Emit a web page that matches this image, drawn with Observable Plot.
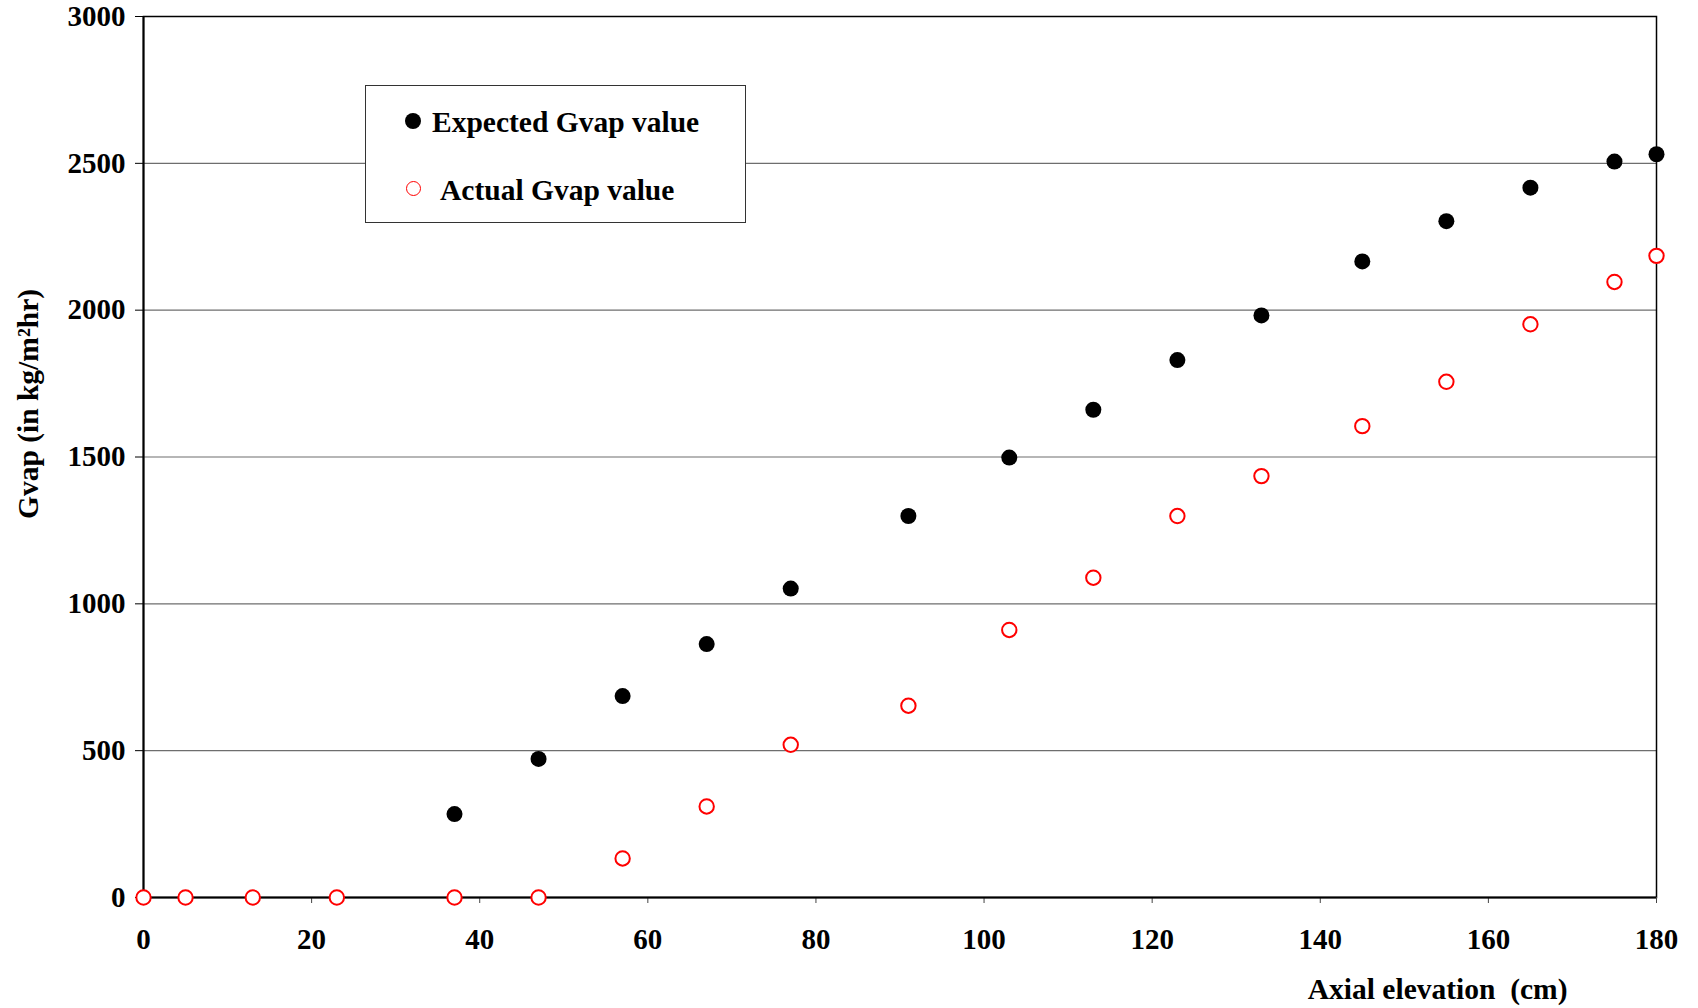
<!DOCTYPE html>
<html>
<head>
<meta charset="utf-8">
<script src="https://cdn.jsdelivr.net/npm/d3@7"></script>
<script src="https://cdn.jsdelivr.net/npm/@observablehq/plot@0.6"></script>
<style>
  html, body { margin: 0; padding: 0; background: #fff; }
  #wrap { position: relative; width: 1698px; height: 1008px; font-family: "Liberation Serif", "Times New Roman", serif; font-weight: bold; }
  #legend { position: absolute; left: 365px; top: 85px; width: 381px; height: 138px; background: #fff; border: 1px solid #333; box-sizing: border-box; }
  .item { position: absolute; font-size: 29.5px; line-height: 1; white-space: nowrap; color: #000; }
  .sym { position: absolute; box-sizing: border-box; border-radius: 50%; }
</style>
</head>
<body>
<div id="wrap"></div>
<script>
// Axial elevation (cm) of the measurement stations
const elevationExpected = [37, 47, 57, 67, 77, 91, 103, 113, 123, 133, 145, 155, 165, 175, 180];
const gvapExpected      = [284, 472, 686, 863, 1052, 1299, 1498, 1661, 1830, 1982, 2166, 2303, 2417, 2506, 2531];

const elevationActual = [0, 5, 13, 23, 37, 47, 57, 67, 77, 91, 103, 113, 123, 133, 145, 155, 165, 175, 180];
const gvapActual      = [0, 0, 0, 0, 0, 0, 133, 310, 520, 653, 911, 1089, 1299, 1435, 1605, 1756, 1952, 2096, 2185];

const xTicks = [0, 20, 40, 60, 80, 100, 120, 140, 160, 180];
const yTicks = [0, 500, 1000, 1500, 2000, 2500, 3000];
const gridValues = [500, 1000, 1500, 2000, 2500];

const seriesNames = ["Expected Gvap value", "Actual Gvap value"];
const xLabel = "Axial elevation\u00a0 (cm)";
const yLabel = "Gvap (in kg/m\u00b2hr)";

const expected = elevationExpected.map((x, i) => ({x, y: gvapExpected[i]}));
const actual = elevationActual.map((x, i) => ({x, y: gvapActual[i]}));

const chart = Plot.plot({
  width: 1698,
  height: 1008,
  marginTop: 16,
  marginLeft: 143,
  marginRight: 42,
  marginBottom: 111,
  style: {fontFamily: "'Liberation Serif', 'Times New Roman', serif", fontSize: "29px", fontWeight: "bold", color: "#000", background: "#fff"},
  x: {domain: [0, 180]},
  y: {domain: [0, 3000]},
  marks: [
    Plot.ruleY(gridValues, {stroke: "#6e6e6e", strokeWidth: 1.2}),
    Plot.frame({stroke: "#000", strokeWidth: 1.5}),
    Plot.axisX({ticks: xTicks, tickSize: 6, tickPadding: 25, tickFormat: d => String(d), label: null, stroke: "#444"}),
    Plot.axisY({ticks: yTicks, tickSize: 8, tickPadding: 10, tickFormat: d => String(d), label: null, stroke: "#000"}),
    Plot.ruleX([0], {stroke: "#000", strokeWidth: 2}),
    Plot.ruleY([0], {stroke: "#000", strokeWidth: 2.2}),
    Plot.dot(expected, {x: "x", y: "y", r: 8, fill: "#000", stroke: "none"}),
    Plot.dot(actual, {x: "x", y: "y", r: 7.2, fill: "#fff", stroke: "#ff0000", strokeWidth: 2}),
    Plot.text([xLabel], {frameAnchor: "bottom-right", textAnchor: "end", dx: -89, dy: 101, fontSize: 29.5, fontWeight: "bold"}),
    Plot.text([yLabel], {frameAnchor: "left", textAnchor: "middle", rotate: -90, dx: -115, dy: -53, fontSize: 29.5, fontWeight: "bold"})
  ]
});

const wrap = document.getElementById("wrap");
wrap.appendChild(chart);

// Legend box
const legend = document.createElement("div");
legend.id = "legend";
legend.innerHTML = `
  <div class="sym" style="left:39px;top:27px;width:16px;height:16px;background:#000;"></div>
  <div class="item" style="left:66px;top:22px;">${seriesNames[0]}</div>
  <div class="sym" style="left:40px;top:95px;width:15px;height:15px;border:1.8px solid #ff0000;background:#fff;"></div>
  <div class="item" style="left:74px;top:90px;">${seriesNames[1]}</div>
`;
wrap.appendChild(legend);
</script>
</body>
</html>
